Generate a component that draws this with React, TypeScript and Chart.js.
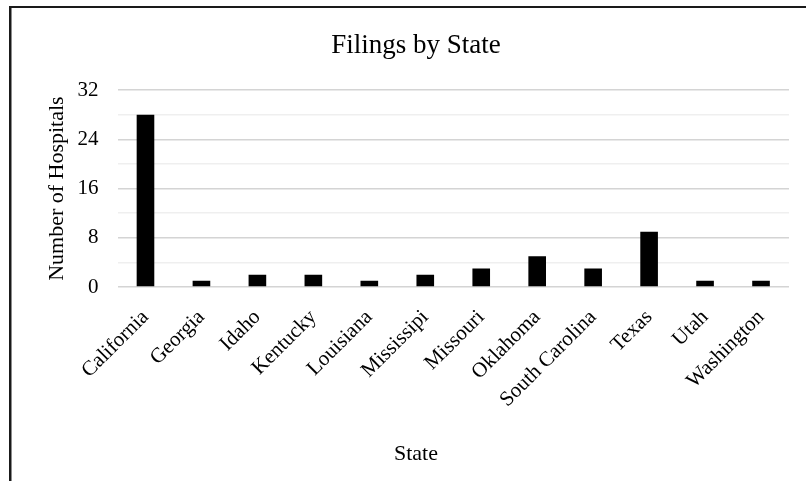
import React, { useEffect, useRef } from "react";
import { Chart, registerables } from "chart.js";

Chart.register(...registerables);

// Filings per state (number of hospitals)
const states = [
  "California",
  "Georgia",
  "Idaho",
  "Kentucky",
  "Louisiana",
  "Mississipi",
  "Missouri",
  "Oklahoma",
  "South Carolina",
  "Texas",
  "Utah",
  "Washington",
];
const hospitals = [28, 1, 2, 2, 1, 2, 3, 5, 3, 9, 1, 1];

const yMin = 0;
const yMax = 32;
const yStep = 4;
const yLabelStep = 8;

const SERIF = "'Liberation Serif', 'Times New Roman', serif";
const CANVAS_W = 822;
const CANVAS_H = 481;

// White background plus the frame line on the top and left edges of the chart box
const framePlugin = {
  id: "frame",
  beforeDraw(chart: Chart) {
    const { ctx } = chart;
    ctx.save();
    ctx.fillStyle = "#ffffff";
    ctx.fillRect(0, 0, chart.width, chart.height);
    ctx.fillStyle = "#1a1a1a";
    ctx.fillRect(9, 6, 2.5, chart.height);
    ctx.fillRect(9, 6, chart.width, 2);
    ctx.restore();
  },
};

export default function App() {
  const canvasRef = useRef<HTMLCanvasElement | null>(null);

  useEffect(() => {
    const canvas = canvasRef.current;
    if (!canvas) return;
    const chart = new Chart(canvas, {
      type: "bar",
      data: {
        labels: states,
        datasets: [
          {
            label: "Number of Hospitals",
            data: hospitals,
            backgroundColor: "#000000",
            borderWidth: 0,
            categoryPercentage: 1,
            barPercentage: 0.315,
          },
        ],
      },
      options: {
        responsive: false,
        animation: false,
        devicePixelRatio: 1,
        layout: { padding: { left: 10, top: 0, right: 0, bottom: 0 } },
        plugins: {
          legend: { display: false },
          tooltip: { enabled: false },
          title: {
            display: true,
            text: "Filings by State",
            color: "#000",
            font: { family: SERIF, size: 27, weight: "normal", lineHeight: 1.2 },
            padding: { top: 29.8, bottom: 28 },
          },
          subtitle: {
            display: true,
            position: "bottom",
            text: "State",
            color: "#000",
            font: { family: SERIF, size: 22, weight: "normal", lineHeight: 1.2 },
            padding: { top: 0, bottom: 13.5 },
          },
        },
        scales: {
          x: {
            grid: { display: false },
            border: { display: false },
            ticks: {
              color: "#000",
              font: { family: SERIF, size: 21 },
              minRotation: 45,
              maxRotation: 45,
              autoSkip: false,
              padding: 10,
            },
            afterFit(scale: any) {
              scale.height = 154.1;
            },
          },
          y: {
            min: yMin,
            max: yMax,
            grid: {
              drawTicks: false,
              lineWidth: 1.6,
              color: (ctx: any) =>
                ctx.tick && ctx.tick.value % yLabelStep === 0 ? "#d4d4d4" : "#efefef",
            },
            border: { display: false },
            ticks: {
              stepSize: yStep,
              autoSkip: false,
              color: "#000",
              font: { family: SERIF, size: 21 },
              padding: 19,
              callback: (v: any) => (Number(v) % yLabelStep === 0 ? String(v) : ""),
            },
            title: {
              display: true,
              text: "Number of Hospitals",
              color: "#000",
              font: { family: SERIF, size: 22, lineHeight: 1.2 },
              padding: { top: 33.8, bottom: 0 },
            },
            afterFit(scale: any) {
              scale.width = 107.5;
            },
          },
          // spacer on the right side of the plot area
          yRight: {
            position: "right",
            display: true,
            grid: { display: false },
            border: { display: false },
            ticks: { display: false },
            afterFit(scale: any) {
              scale.width = 33;
            },
          },
        },
      },
      plugins: [framePlugin],
    } as any);
    return () => chart.destroy();
  }, []);

  return (
    <div
      style={{
        position: "fixed",
        left: 0,
        top: 0,
        width: 806,
        height: 481,
        overflow: "hidden",
        background: "#fff",
      }}
    >
      <canvas
        ref={canvasRef}
        width={CANVAS_W}
        height={CANVAS_H}
        style={{ display: "block", width: CANVAS_W, height: CANVAS_H }}
      />
    </div>
  );
}
